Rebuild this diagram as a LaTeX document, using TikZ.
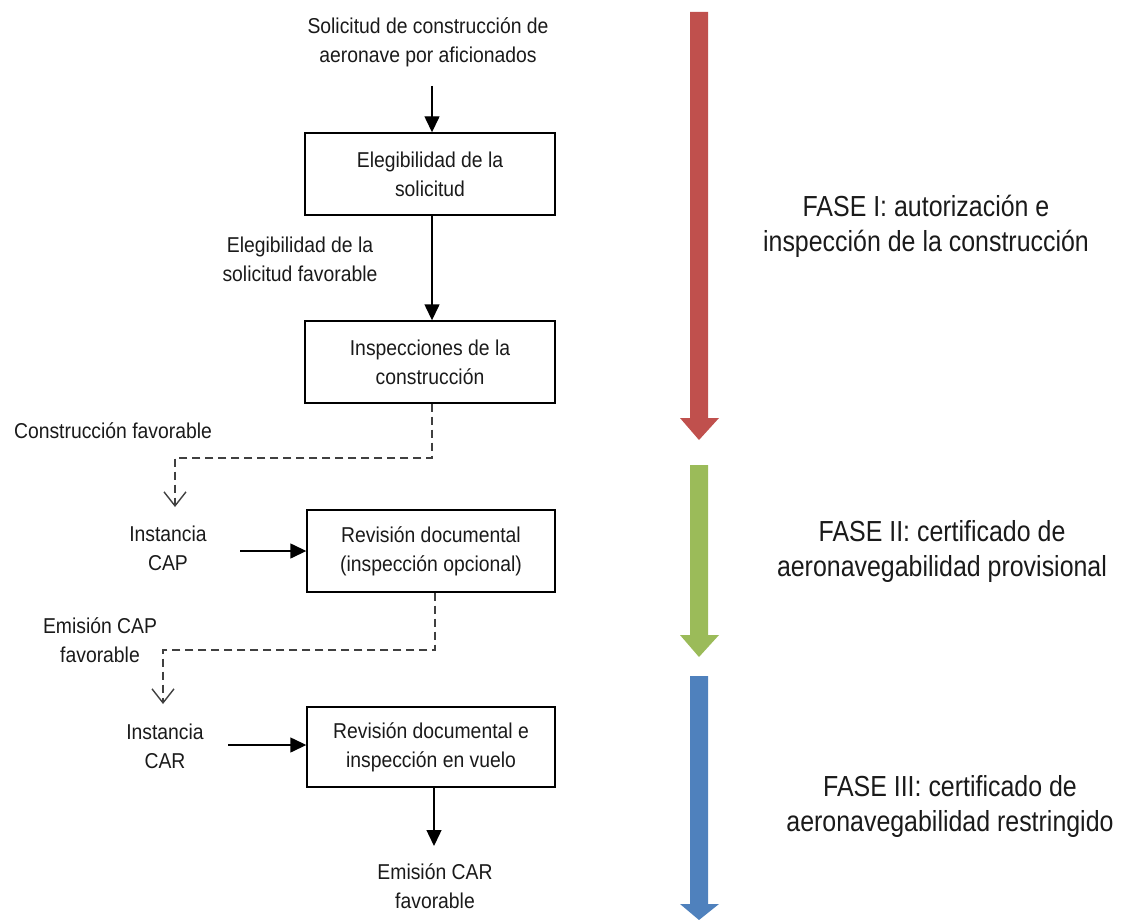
\documentclass[tikz,border=0pt]{standalone}
\usepackage{fontspec}
\setmainfont{Liberation Sans}[FakeStretch=0.9]
\newfontfamily\phasefont{Liberation Sans}[FakeStretch=0.86]
\usetikzlibrary{arrows.meta}
\definecolor{phred}{HTML}{C0504D}
\definecolor{phgreen}{HTML}{9BBB59}
\definecolor{phblue}{HTML}{4F81BD}
\definecolor{txt}{HTML}{1A1A1A}
\begin{document}
\begin{tikzpicture}[x=1pt,y=-1pt,
  lbl/.style={align=center,text=txt,font=\fontsize{21.5}{29}\selectfont,inner sep=0pt},
  phase/.style={align=center,text=txt,font=\phasefont\fontsize{29}{35}\selectfont,inner sep=0pt},
  box/.style={draw=black,line width=1.4pt,minimum width=250pt,minimum height=82pt,align=center,text=txt,font=\fontsize{21.5}{29}\selectfont,inner sep=0pt},
  solid arrow/.style={line width=1.4pt,-{Triangle[length=16pt,width=15pt]}},
  dash arrow/.style={line width=1.4pt,draw=black!75,dash pattern=on 8pt off 5pt,-{Straight Barb[length=14pt,width=22pt,line width=1.4pt]}},
  fat/.style={fill=#1,draw=none}]
\useasboundingbox (0,0) rectangle (1129,920);
% nodes
\node[lbl] (req) at (428,42) {Solicitud de construcción de\\aeronave por aficionados};
\node[box] (b1) at (430,174) {Elegibilidad de la\\solicitud};
\node[lbl] (l1) at (300,259) {Elegibilidad de la\\solicitud favorable};
\node[box] (b2) at (430,362) {Inspecciones de la\\construcción};
\node[lbl] (l2) at (113,431) {Construcción favorable};
\node[lbl] (cap) at (168,548) {Instancia\\CAP};
\node[box,minimum width=248pt] (b3) at (431,551) {Revisión documental\\(inspección opcional)};
\node[lbl] (l3) at (100,640) {Emisión CAP\\favorable};
\node[lbl] (car) at (165,746) {Instancia\\CAR};
\node[box,minimum width=248pt,minimum height=80pt] (b4) at (431,747) {Revisión documental e\\inspección en vuelo};
\node[lbl] (emi) at (435,886) {Emisión CAR\\favorable};
\coordinate (c1) at (175,458);
\coordinate (d1) at (175,507);
\coordinate (c2) at (163,650);
\coordinate (d2) at (163,704);
% connectors
\draw[solid arrow] (432,86) -- (b1.north -| 432,0);
\draw[solid arrow] (b1.south -| 432,0) -- (b2.north -| 432,0);
\draw[dash arrow] (b2.south -| 432,0) |- (c1) -- (d1);
\draw[solid arrow] (240,551) -- (b3.west);
\draw[dash arrow] (b3.south -| 435,0) |- (c2) -- (d2);
\draw[solid arrow] (228,745) -- (b4.west |- 0,745);
\draw[solid arrow] (b4.south -| 434,0) -- (434,846);
% phase arrows
\fill[phred] (690,12) -- (708,12) -- (708,418) -- (719,418) -- (699,440) -- (680,418) -- (690,418) -- cycle;
\fill[phgreen] (690,465) -- (708,465) -- (708,635) -- (719,635) -- (699,657) -- (680,635) -- (690,635) -- cycle;
\fill[phblue] (690,676) -- (708,676) -- (708,904) -- (719,904) -- (699,920) -- (680,904) -- (690,904) -- cycle;
\node[phase] (f1) at (926,226) {FASE I: autorización e\\inspección de la construcción};
\node[phase] (f2) at (942,551) {FASE II: certificado de\\aeronavegabilidad provisional};
\node[phase] (f3) at (950,806) {FASE III: certificado de\\aeronavegabilidad restringido};
\end{tikzpicture}
\end{document}
